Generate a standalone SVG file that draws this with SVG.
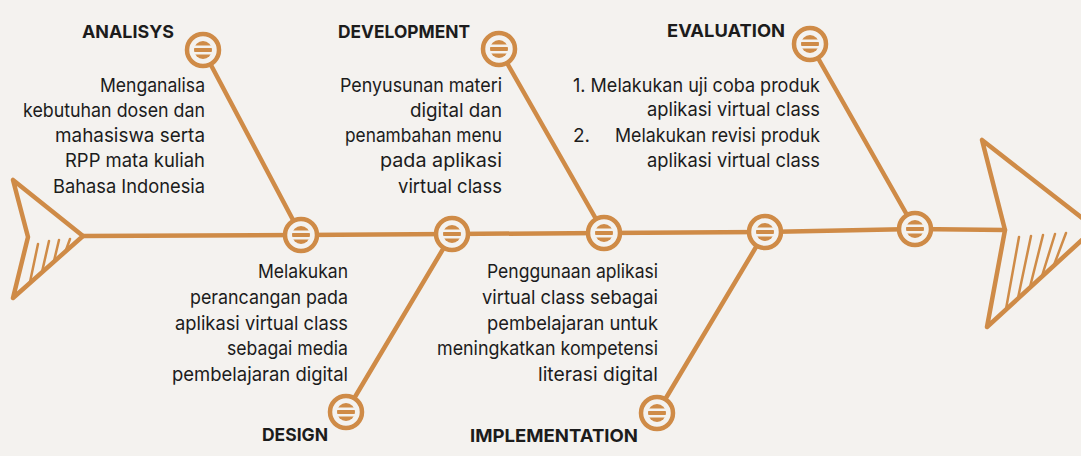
<svg xmlns="http://www.w3.org/2000/svg" width="1081" height="456" viewBox="0 0 1081 456">
  <style>
    .bg { fill: #f4f2ef; }
    .bone { fill: none; stroke: #cf8b47; stroke-width: 4.5; stroke-linecap: round; stroke-linejoin: round; }
    .hatch { fill: none; stroke: #cf8b47; stroke-width: 2.5; stroke-linecap: round; }
    .ring { fill: #f4f2ef; stroke: #cf8b47; stroke-width: 4.5; }
    .title { font-family: Inter, "Noto Sans", sans-serif; font-weight: bold; font-size: 18px; fill: #1c1c1c; }
    .body { font-family: Inter, "Noto Sans", sans-serif; font-size: 19px; fill: #1c1c1c; }
  </style>
  <defs>
    <clipPath id="core"><circle r="9"/></clipPath>
    <g id="dot">
      <circle r="16" class="ring"/>
      <g clip-path="url(#core)" fill="#cf8b47">
        <rect x="-10" y="-10" width="20" height="5.5"/>
        <rect x="-10" y="-2" width="20" height="4"/>
        <rect x="-10" y="4.5" width="20" height="5.5"/>
      </g>
    </g>
  </defs>

  <rect class="bg" x="0" y="0" width="1081" height="456"/>

  <!-- fish tail and head -->
  <g id="tail">
    <polygon class="bone" points="13,180 28,237 13,298 83,236"/>
    <path class="hatch" d="M30,282 L38,244 M42,272 L49,241 M54,261 L59,240 M66,250 L70,239"/>
  </g>
  <g id="head">
    <polygon class="bone" points="982,140 1005,230 987,327 1095,228"/>
    <path class="hatch" d="M1006,309 L1019,237 M1018,298 L1031,236 M1030,287 L1043,235 M1042,276 L1055,234 M1054,265 L1066,233"/>
  </g>

  <!-- spine and bones -->
  <g id="connectors">
    <polyline class="bone" points="83,236 301,235 452,234 604,233 765,232 915,229 1005,230"/>
    <line class="bone" x1="203" y1="50" x2="301" y2="235"/>
    <line class="bone" x1="499" y1="49" x2="604" y2="233"/>
    <line class="bone" x1="810" y1="44" x2="915" y2="229"/>
    <line class="bone" x1="452" y1="234" x2="346" y2="412"/>
    <line class="bone" x1="765" y1="232" x2="657" y2="413"/>
  </g>

  <!-- junctions on the spine -->
  <g id="junctions">
    <use href="#dot" x="301" y="235"/>
    <use href="#dot" x="452" y="234"/>
    <use href="#dot" x="604" y="233"/>
    <use href="#dot" x="765" y="232"/>
    <use href="#dot" x="915" y="229"/>
  </g>

  <g id="analisys">
    <use href="#dot" x="203" y="50"/>
    <text class="title" x="82" y="38" textLength="92" lengthAdjust="spacingAndGlyphs">ANALISYS</text>
    <g class="body" text-anchor="end">
      <text x="205" y="92" textLength="105" lengthAdjust="spacingAndGlyphs">Menganalisa</text>
      <text x="205" y="117" textLength="182" lengthAdjust="spacingAndGlyphs">kebutuhan dosen dan</text>
      <text x="205" y="142" textLength="150" lengthAdjust="spacingAndGlyphs">mahasiswa serta</text>
      <text x="205" y="167" textLength="140" lengthAdjust="spacingAndGlyphs">RPP mata kuliah</text>
      <text x="205" y="193" textLength="152" lengthAdjust="spacingAndGlyphs">Bahasa Indonesia</text>
    </g>
  </g>

  <g id="development">
    <use href="#dot" x="499" y="49"/>
    <text class="title" x="338" y="38" textLength="132" lengthAdjust="spacingAndGlyphs">DEVELOPMENT</text>
    <g class="body" text-anchor="end">
      <text x="502" y="92" textLength="162" lengthAdjust="spacingAndGlyphs">Penyusunan materi</text>
      <text x="502" y="117" textLength="92" lengthAdjust="spacingAndGlyphs">digital dan</text>
      <text x="502" y="142" textLength="157" lengthAdjust="spacingAndGlyphs">penambahan menu</text>
      <text x="502" y="167" textLength="122" lengthAdjust="spacingAndGlyphs">pada aplikasi</text>
      <text x="502" y="193" textLength="104" lengthAdjust="spacingAndGlyphs">virtual class</text>
    </g>
  </g>

  <g id="evaluation">
    <use href="#dot" x="810" y="44"/>
    <text class="title" x="667" y="37" textLength="118" lengthAdjust="spacingAndGlyphs">EVALUATION</text>
    <g class="body">
      <text x="573" y="92" textLength="247" lengthAdjust="spacingAndGlyphs">1. Melakukan uji coba produk</text>
      <text x="820" y="116" text-anchor="end" textLength="173" lengthAdjust="spacingAndGlyphs">aplikasi virtual class</text>
      <text x="573" y="142">2.</text>
      <text x="820" y="142" text-anchor="end" textLength="205" lengthAdjust="spacingAndGlyphs">Melakukan revisi produk</text>
      <text x="820" y="167" text-anchor="end" textLength="173" lengthAdjust="spacingAndGlyphs">aplikasi virtual class</text>
    </g>
  </g>

  <g id="design">
    <use href="#dot" x="346" y="412"/>
    <text class="title" x="262" y="441" textLength="66" lengthAdjust="spacingAndGlyphs">DESIGN</text>
    <g class="body" text-anchor="end">
      <text x="348" y="278" textLength="90" lengthAdjust="spacingAndGlyphs">Melakukan</text>
      <text x="348" y="304" textLength="158" lengthAdjust="spacingAndGlyphs">perancangan pada</text>
      <text x="348" y="330" textLength="173" lengthAdjust="spacingAndGlyphs">aplikasi virtual class</text>
      <text x="348" y="355" textLength="121" lengthAdjust="spacingAndGlyphs">sebagai media</text>
      <text x="348" y="381" textLength="176" lengthAdjust="spacingAndGlyphs">pembelajaran digital</text>
    </g>
  </g>

  <g id="implementation">
    <use href="#dot" x="657" y="413"/>
    <text class="title" x="470" y="442" textLength="168" lengthAdjust="spacingAndGlyphs">IMPLEMENTATION</text>
    <g class="body" text-anchor="end">
      <text x="658" y="278" textLength="171" lengthAdjust="spacingAndGlyphs">Penggunaan aplikasi</text>
      <text x="658" y="304" textLength="176" lengthAdjust="spacingAndGlyphs">virtual class sebagai</text>
      <text x="658" y="330" textLength="171" lengthAdjust="spacingAndGlyphs">pembelajaran untuk</text>
      <text x="658" y="355" textLength="221" lengthAdjust="spacingAndGlyphs">meningkatkan kompetensi</text>
      <text x="658" y="381" textLength="120" lengthAdjust="spacingAndGlyphs">literasi digital</text>
    </g>
  </g>
</svg>
